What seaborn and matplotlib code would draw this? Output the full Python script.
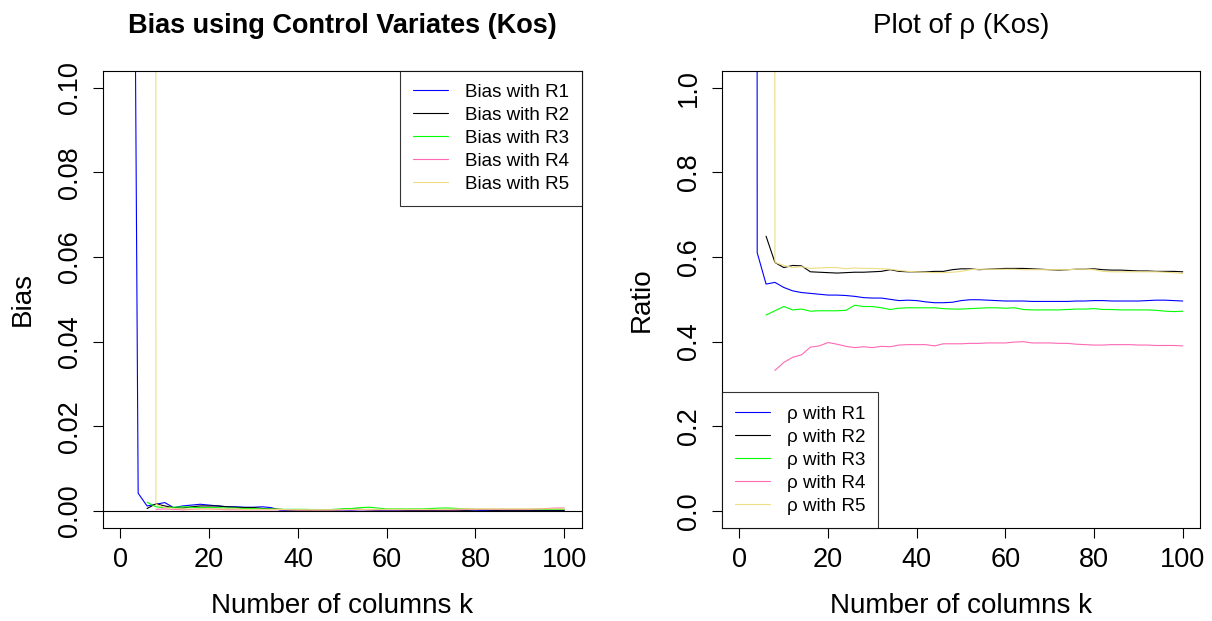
import numpy as np
import pandas as pd
import matplotlib
matplotlib.use("Agg")
import matplotlib.pyplot as plt
from matplotlib.lines import Line2D
import seaborn as sns

nan = np.nan

# ---- data -------------------------------------------------------------
k_values = list(range(2, 101, 2))
series_names = ["R1", "R2", "R3", "R4", "R5"]
series_colors = ["#0000FF", "#000000", "#00FF00", "#FF69B4", "#EEDD82"]

# Bias (left panel); first entries are far above the visible range
bias_r1 = [0.34, 0.0042, 0.0012, 0.0016, 0.0020, 0.0008, 0.0012, 0.0014, 0.0016, 0.0014,
           0.0012, 0.0010, 0.0010, 0.0009, 0.0009, 0.0010, 0.0008, 0.0002, 0.0001, 0.0001,
           0.0001, 0.0000, 0.0001, 0.0001, 0.0002, 0.0002, 0.0003, 0.0003, 0.0002, 0.0002,
           0.0002, 0.0002, 0.0001, 0.0001, 0.0001, 0.0002, 0.0002, 0.0002, 0.0002, 0.0002,
           0.0001, 0.0001, 0.0002, 0.0002, 0.0002, 0.0002, 0.0001, 0.0001, 0.0001, 0.0001]
bias_r2 = [nan, nan, 0.0006, 0.0017, 0.0012, 0.0008, 0.0007, 0.0010, 0.0012, 0.0012,
           0.0012, 0.0010, 0.0009, 0.0008, 0.0008, 0.0006, 0.0005, 0.0004, 0.0003, 0.0002,
           0.0002, 0.0002, 0.0002, 0.0003, 0.0004, 0.0005, 0.0004, 0.0003, 0.0003, 0.0003,
           0.0003, 0.0002, 0.0002, 0.0002, 0.0002, 0.0002, 0.0002, 0.0002, 0.0002, 0.0003,
           0.0003, 0.0002, 0.0002, 0.0002, 0.0002, 0.0002, 0.0002, 0.0002, 0.0002, 0.0002]
bias_r3 = [nan, nan, 0.0021, 0.0010, 0.0008, 0.0009, 0.0010, 0.0009, 0.0008, 0.0008,
           0.0008, 0.0007, 0.0007, 0.0006, 0.0006, 0.0005, 0.0005, 0.0004, 0.0004, 0.0004,
           0.0004, 0.0003, 0.0003, 0.0004, 0.0005, 0.0006, 0.0008, 0.0009, 0.0007, 0.0005,
           0.0005, 0.0005, 0.0005, 0.0005, 0.0006, 0.0007, 0.0007, 0.0006, 0.0005, 0.0004,
           0.0004, 0.0004, 0.0004, 0.0004, 0.0004, 0.0004, 0.0004, 0.0004, 0.0004, 0.0004]
bias_r4 = [nan, nan, nan, 0.0004, 0.0005, 0.0004, 0.0003, 0.0004, 0.0005, 0.0005,
           0.0004, 0.0003, 0.0003, 0.0003, 0.0003, 0.0003, 0.0003, 0.0003, 0.0003, 0.0002,
           0.0002, 0.0002, 0.0002, 0.0002, 0.0003, 0.0003, 0.0003, 0.0003, 0.0003, 0.0003,
           0.0003, 0.0003, 0.0003, 0.0003, 0.0003, 0.0003, 0.0003, 0.0003, 0.0004, 0.0004,
           0.0004, 0.0004, 0.0004, 0.0004, 0.0004, 0.0004, 0.0005, 0.0006, 0.0007, 0.0007]
bias_r5 = [nan, nan, 50.0, 0.0016, 0.0008, 0.0006, 0.0005, 0.0005, 0.0005, 0.0005,
           0.0005, 0.0005, 0.0005, 0.0004, 0.0004, 0.0004, 0.0004, 0.0004, 0.0003, 0.0003,
           0.0003, 0.0003, 0.0003, 0.0003, 0.0003, 0.0004, 0.0004, 0.0004, 0.0004, 0.0004,
           0.0004, 0.0004, 0.0004, 0.0004, 0.0004, 0.0004, 0.0004, 0.0005, 0.0005, 0.0005,
           0.0005, 0.0005, 0.0005, 0.0005, 0.0005, 0.0005, 0.0005, 0.0005, 0.0005, 0.0005]

# Ratio rho (right panel)
rho_r1 = [50.0, 0.610, 0.536, 0.540, 0.528, 0.520, 0.516, 0.514, 0.512, 0.510,
          0.510, 0.509, 0.507, 0.504, 0.503, 0.503, 0.500, 0.497, 0.498, 0.497,
          0.494, 0.492, 0.492, 0.493, 0.497, 0.499, 0.499, 0.498, 0.497, 0.496,
          0.496, 0.496, 0.495, 0.495, 0.495, 0.495, 0.495, 0.496, 0.496, 0.497,
          0.497, 0.496, 0.496, 0.496, 0.496, 0.497, 0.498, 0.498, 0.497, 0.496]
rho_r2 = [nan, nan, 0.649, 0.587, 0.575, 0.580, 0.579, 0.565, 0.564, 0.563,
          0.562, 0.563, 0.564, 0.564, 0.565, 0.566, 0.570, 0.566, 0.565, 0.565,
          0.565, 0.566, 0.566, 0.570, 0.572, 0.572, 0.570, 0.571, 0.572, 0.573,
          0.573, 0.573, 0.572, 0.571, 0.570, 0.569, 0.570, 0.571, 0.571, 0.572,
          0.570, 0.569, 0.569, 0.568, 0.567, 0.567, 0.566, 0.566, 0.566, 0.565]
rho_r3 = [nan, nan, 0.463, 0.473, 0.483, 0.475, 0.477, 0.472, 0.473, 0.473,
          0.473, 0.474, 0.486, 0.483, 0.483, 0.480, 0.476, 0.479, 0.480, 0.480,
          0.480, 0.480, 0.478, 0.477, 0.477, 0.478, 0.479, 0.480, 0.480, 0.479,
          0.480, 0.476, 0.475, 0.475, 0.475, 0.475, 0.476, 0.477, 0.477, 0.478,
          0.476, 0.476, 0.475, 0.475, 0.475, 0.475, 0.474, 0.472, 0.471, 0.472]
rho_r4 = [nan, nan, nan, 0.332, 0.351, 0.363, 0.369, 0.387, 0.390, 0.398,
          0.394, 0.389, 0.386, 0.388, 0.386, 0.389, 0.388, 0.392, 0.393, 0.393,
          0.393, 0.390, 0.395, 0.395, 0.395, 0.396, 0.396, 0.397, 0.397, 0.397,
          0.399, 0.400, 0.397, 0.397, 0.397, 0.396, 0.396, 0.394, 0.393, 0.392,
          0.392, 0.393, 0.393, 0.393, 0.392, 0.392, 0.391, 0.391, 0.391, 0.390]
rho_r5 = [nan, nan, 50.0, 0.587, 0.580, 0.575, 0.577, 0.573, 0.574, 0.575,
          0.575, 0.572, 0.574, 0.573, 0.573, 0.572, 0.571, 0.568, 0.566, 0.565,
          0.564, 0.563, 0.563, 0.564, 0.566, 0.570, 0.571, 0.571, 0.571, 0.571,
          0.571, 0.570, 0.570, 0.570, 0.570, 0.570, 0.570, 0.571, 0.571, 0.570,
          0.566, 0.565, 0.565, 0.565, 0.565, 0.565, 0.565, 0.564, 0.563, 0.561]

x_ticks = [0, 20, 40, 60, 80, 100]
bias_ticks = [0.00, 0.02, 0.04, 0.06, 0.08, 0.10]
rho_ticks = [0.0, 0.2, 0.4, 0.6, 0.8, 1.0]

left_title = "Bias using Control Variates (Kos)"
right_title = "Plot of \u03c1 (Kos)"
x_label = "Number of columns k"
left_ylabel = "Bias"
right_ylabel = "Ratio"
left_legend = ["Bias with " + s for s in series_names]
right_legend = ["\u03c1 with " + s for s in series_names]


def long_frame(arrays):
    frames = []
    for name, vals in zip(series_names, arrays):
        frames.append(pd.DataFrame({"k": k_values, "value": vals, "series": name}))
    return pd.concat(frames, ignore_index=True)


df_bias = long_frame([bias_r1, bias_r2, bias_r3, bias_r4, bias_r5])
df_rho = long_frame([rho_r1, rho_r2, rho_r3, rho_r4, rho_r5])

# ---- style ------------------------------------------------------------
sns.set_style("ticks")
plt.rcParams["font.family"] = ["Liberation Sans", "DejaVu Sans"]
plt.rcParams["text.color"] = "black"
plt.rcParams["axes.labelcolor"] = "black"
plt.rcParams["axes.edgecolor"] = "black"
plt.rcParams["axes.linewidth"] = 0.8
plt.rcParams["xtick.color"] = "black"
plt.rcParams["ytick.color"] = "black"
plt.rcParams["xtick.labelcolor"] = "black"
plt.rcParams["ytick.labelcolor"] = "black"

palette = dict(zip(series_names, series_colors))

fig = plt.figure(figsize=(12.12, 6.21), dpi=100)
ax1 = fig.add_axes([0.0847, 0.1498, 0.3955, 0.7364])
ax2 = fig.add_axes([0.5955, 0.1498, 0.3950, 0.7364])

sns.lineplot(data=df_bias, x="k", y="value", hue="series", palette=palette,
             ax=ax1, legend=False, linewidth=0.8, estimator=None)
sns.lineplot(data=df_rho, x="k", y="value", hue="series", palette=palette,
             ax=ax2, legend=False, linewidth=0.8, estimator=None)

ax1.axhline(0, color="black", linewidth=0.8)

TICK_FS = 19.5
LABEL_FS = 20
for ax, yt, fmt, ylim, ylab, title, tw in [
    (ax1, bias_ticks, "{:.2f}", (-0.004, 0.104), left_ylabel, left_title, "bold"),
    (ax2, rho_ticks, "{:.1f}", (-0.04, 1.04), right_ylabel, right_title, "normal"),
]:
    ax.set_xlim(-4, 104)
    ax.set_ylim(*ylim)
    ax.set_xticks(x_ticks)
    ax.set_xticklabels([str(t) for t in x_ticks], fontsize=TICK_FS, color="black")
    ax.set_yticks(yt)
    ax.set_yticklabels([fmt.format(t) for t in yt], fontsize=TICK_FS,
                       rotation=90, va="center", color="black")
    ax.tick_params(axis="both", direction="out", length=7, width=0.8, pad=7)
    ax.set_xlabel(x_label, fontsize=LABEL_FS, color="black")
    ax.set_ylabel(ylab, fontsize=LABEL_FS, color="black")
    ax.xaxis.set_label_coords(0.5, -0.142)
    ax.yaxis.set_label_coords(-0.14, 0.5)
    ax.set_title(title, fontsize=19.5 if tw == "bold" else 20,
                 fontweight=tw, pad=27, color="black")
    for sp in ax.spines.values():
        sp.set_visible(True)
        sp.set_color("black")
        sp.set_linewidth(0.8)

LEG_KW = dict(fontsize=13.5, frameon=True, fancybox=False, borderaxespad=0,
              borderpad=0.70, labelspacing=0.315, handlelength=1.87,
              handletextpad=0.89)

h1 = [Line2D([0], [0], color=c, lw=0.8) for c in series_colors]
leg1 = ax1.legend(h1, left_legend, loc="upper right", **LEG_KW)
leg1.get_frame().set_edgecolor("black")
leg1.get_frame().set_linewidth(0.8)

h2 = [Line2D([0], [0], color=c, lw=0.8) for c in series_colors]
leg2 = ax2.legend(h2, right_legend, loc="lower left", **LEG_KW)
leg2.get_frame().set_edgecolor("black")
leg2.get_frame().set_linewidth(0.8)

fig.savefig("out.png", dpi=100)
